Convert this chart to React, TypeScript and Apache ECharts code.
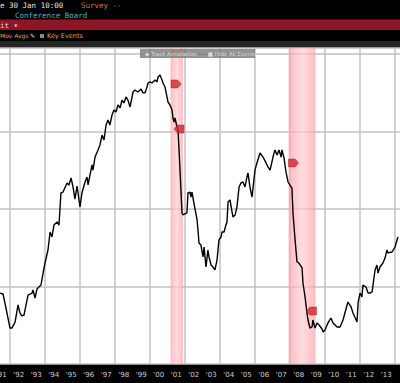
import React, { useEffect, useRef } from "react";
import * as echarts from "echarts";

const years: number[] = [
  1991.43, 1991.6, 1991.71, 1992.0, 1992.11, 1992.29, 1992.46, 1992.57, 1992.69, 1992.8,
  1993.03, 1993.26, 1993.31, 1993.43, 1993.54, 1993.77, 1993.89, 1994.0, 1994.17, 1994.29,
  1994.4, 1994.51, 1994.69, 1994.8, 1994.91, 1995.03, 1995.26, 1995.37, 1995.49, 1995.6,
  1995.71, 1995.83, 1996.0, 1996.11, 1996.29, 1996.4, 1996.46, 1996.57, 1996.69, 1996.74,
  1996.86, 1997.03, 1997.14, 1997.26, 1997.37, 1997.49, 1997.6, 1997.71, 1997.83, 1997.94,
  1998.06, 1998.17, 1998.29, 1998.4, 1998.51, 1998.63, 1998.74, 1998.86, 1999.03, 1999.14,
  1999.31, 1999.49, 1999.6, 1999.71, 1999.83, 1999.89, 2000.0, 2000.11, 2000.17, 2000.29,
  2000.4, 2000.46, 2000.57, 2000.69, 2000.74, 2000.86, 2000.97, 2001.03, 2001.14, 2001.26,
  2001.31, 2001.37, 2001.43, 2001.54, 2001.6, 2001.66, 2001.83, 2001.89, 2002.11, 2002.17,
  2002.29, 2002.34, 2002.4, 2002.51, 2002.69, 2002.74, 2002.8, 2002.91, 2003.03, 2003.09,
  2003.2, 2003.31, 2003.37, 2003.49, 2003.6, 2003.71, 2003.83, 2003.94, 2004.06, 2004.11,
  2004.23, 2004.34, 2004.4, 2004.46, 2004.57, 2004.69, 2004.74, 2004.86, 2004.97, 2005.09,
  2005.2, 2005.31, 2005.43, 2005.54, 2005.6, 2005.71, 2005.83, 2006.0, 2006.11, 2006.29,
  2006.46, 2006.63, 2006.74, 2006.86, 2007.03, 2007.14, 2007.26, 2007.37, 2007.49, 2007.54,
  2007.66, 2007.77, 2007.89, 2008.06, 2008.11, 2008.17, 2008.29, 2008.4, 2008.51, 2008.69,
  2008.74, 2008.86, 2008.97, 2009.03, 2009.14, 2009.26, 2009.31, 2009.43, 2009.54, 2009.66,
  2009.83, 2009.89, 2010.0, 2010.17, 2010.34, 2010.46, 2010.69, 2010.86, 2011.03, 2011.31,
  2011.49, 2011.6, 2011.83, 2011.89, 2012.0, 2012.11, 2012.17, 2012.34, 2012.46, 2012.57,
  2012.69, 2012.86, 2012.97, 2013.03, 2013.14, 2013.31, 2013.43, 2013.54, 2013.6, 2013.83,
  2014.0, 2014.17,
];

const values: number[] = [
  45.8, 45.2, 39.4, 23.2, 23.2, 27.1, 38.1, 32.9, 31.0, 31.6,
  44.5, 45.8, 47.8, 42.6, 48.4, 51.0, 58.7, 65.2, 73.6, 85.2,
  82.0, 89.7, 91.7, 89.7, 110.4, 111.0, 116.9, 115.6, 120.1, 114.3,
  106.5, 114.9, 101.4, 110.4, 117.5, 120.7, 115.6, 122.0, 128.5, 125.2,
  133.6, 138.2, 141.4, 147.8, 144.6, 154.3, 157.5, 154.3, 160.8, 164.0,
  162.7, 167.2, 165.3, 170.4, 168.5, 172.4, 170.4, 165.9, 175.6, 176.9,
  175.6, 177.5, 175.0, 175.0, 178.8, 181.4, 182.1, 181.4, 182.1, 183.4,
  182.1, 185.3, 186.6, 183.4, 181.4, 178.8, 172.4, 169.1, 167.2, 164.0,
  158.8, 156.2, 158.8, 153.0, 151.1, 138.2, 97.5, 96.2, 97.5, 110.4,
  111.0, 107.8, 111.0, 103.9, 93.0, 86.5, 78.1, 76.8, 69.1, 75.5,
  62.6, 73.6, 69.1, 63.9, 62.6, 60.7, 67.1, 80.1, 82.0, 85.2,
  85.2, 89.7, 91.7, 104.6, 105.9, 98.1, 94.9, 96.2, 101.4, 114.3,
  116.9, 117.5, 114.3, 120.7, 123.3, 114.3, 107.8, 125.2, 129.8, 136.2,
  133.6, 129.8, 127.2, 125.2, 133.6, 138.2, 134.9, 138.2, 133.6, 138.2,
  133.0, 124.0, 117.5, 114.3, 113.6, 97.5, 80.1, 65.9, 65.2, 62.0,
  52.3, 43.3, 32.9, 28.4, 23.2, 23.9, 28.4, 23.2, 26.5, 25.2,
  22.6, 20.7, 22.0, 26.5, 29.7, 26.5, 23.9, 23.9, 28.4, 40.0,
  36.8, 32.9, 27.1, 39.4, 45.8, 43.3, 51.0, 49.7, 45.8, 45.8,
  46.5, 60.7, 63.9, 58.7, 62.6, 65.2, 68.4, 73.6, 71.7, 72.3,
  75.5, 82.0,
];

const gridYears: number[] = [1992, 1994, 1996, 1998, 2000, 2002, 2004, 2006, 2008, 2010, 2012, 2014];
const labelYears: number[] = [
  1991, 1992, 1993, 1994, 1995, 1996, 1997, 1998, 1999, 2000, 2001, 2002,
  2003, 2004, 2005, 2006, 2007, 2008, 2009, 2010, 2011, 2012, 2013,
];
const recessionStart: number[] = [2001.17, 2007.92];
const recessionEnd: number[] = [2001.88, 2009.46];

const eventYears: number[] = [2001.49, 2001.66, 2008.2, 2009.23];
const eventValues: number[] = [180.8, 151.7, 129.8, 34.2];
const eventPointRight: boolean[] = [true, false, true, false];

const RIGHT_TAG = "path://M0,0H6L9,4L6,8H0Z";
const LEFT_TAG = "path://M3,0H9V8H3L0,4Z";

export default function App() {
  const ref = useRef<HTMLDivElement>(null);

  useEffect(() => {
    document.body.style.margin = "0";
    if (!ref.current) return;
    const chart = echarts.init(ref.current, undefined, { renderer: "svg" });
    const mono = "DejaVu Sans Mono";
    const gridColor = "#c2c2c2";
    const bandColor = new echarts.graphic.LinearGradient(0, 0, 1, 0, [
      { offset: 0, color: "rgba(255,160,168,0.7)" },
      { offset: 0.5, color: "rgba(255,205,210,0.7)" },
      { offset: 1, color: "rgba(255,160,168,0.7)" },
    ]);

    chart.setOption({
      animation: false,
      backgroundColor: "#000000",
      grid: {
        left: 0,
        right: 0,
        top: 48,
        bottom: 19,
        show: true,
        backgroundColor: "#ffffff",
        borderWidth: 0,
        outerBoundsMode: "none",
      },
      xAxis: {
        type: "value",
        min: 1991.4286,
        max: 2014.2857,
        axisLine: { show: false },
        axisTick: { show: false, customValues: gridYears },
        splitLine: { show: true, lineStyle: { color: gridColor, width: 1.5 } },
        axisLabel: {
          customValues: labelYears.map((y) => y + 0.5),
          formatter: (v: number) => "'" + String(Math.floor(v)).slice(2),
          color: "#cfcfcf",
          fontSize: 7,
          fontFamily: "DejaVu Sans",
          margin: 7,
        },
      },
      yAxis: {
        type: "value",
        min: 0,
        max: 204,
        interval: 50,
        axisLine: { show: false },
        axisTick: { show: false },
        axisLabel: { show: false },
        splitLine: { lineStyle: { color: gridColor, width: 1.5 } },
      },
      series: [
        {
          type: "line",
          data: years.map((y, i) => [y, values[i]]),
          showSymbol: false,
          lineStyle: { color: "#000000", width: 1.4 },
          z: 5,
          markArea: {
            silent: true,
            itemStyle: { color: bandColor },
            data: recessionStart.map((s, i) => [{ xAxis: s }, { xAxis: recessionEnd[i] }]),
          },
        },
        {
          type: "scatter",
          z: 6,
          data: eventYears.map((y, i) => ({
            value: [y, eventValues[i]],
            symbol: eventPointRight[i] ? RIGHT_TAG : LEFT_TAG,
          })),
          symbolSize: [10, 8],
          itemStyle: { color: "#d3232c", borderColor: "#a01018", borderWidth: 0.5 },
        },
      ],
      graphic: [
        {
          type: "text",
          left: 0,
          top: 1,
          style: { text: "e 30 Jan 10:00", fill: "#e6e6e6", font: `7.5px ${mono}` },
        },
        {
          type: "text",
          left: 81,
          top: 1,
          style: { text: "Survey --", fill: "#d2782e", font: `7.5px ${mono}` },
        },
        {
          type: "text",
          left: 15,
          top: 11,
          style: { text: "Conference Board", fill: "#4fb6bf", font: `7.5px ${mono}` },
        },
        {
          type: "rect",
          shape: { x: 0, y: 19.5, width: 400, height: 10.5 },
          style: { fill: "#8e1627" },
        },
        {
          type: "text",
          left: 0,
          top: 21,
          style: { text: "it \u25BE", fill: "#f0d0d0", font: `7.5px ${mono}` },
        },
        {
          type: "text",
          left: 0,
          top: 32.5,
          style: { text: "Mov Avgs", fill: "#e0a048", font: `6px DejaVu Sans` },
        },
        {
          type: "text",
          left: 30,
          top: 32.5,
          style: { text: "\u270E", fill: "#d8d8d8", font: `6px DejaVu Sans` },
        },
        {
          type: "rect",
          shape: { x: 40, y: 34, width: 4, height: 4 },
          style: { fill: "#8a8a8a" },
        },
        {
          type: "text",
          left: 47,
          top: 32.5,
          style: { text: "Key Events", fill: "#e0a048", font: `6.5px DejaVu Sans` },
        },
        {
          type: "rect",
          shape: { x: 0, y: 41, width: 400, height: 7 },
          style: { fill: "#242424" },
        },
        {
          type: "rect",
          shape: { x: 140, y: 49, width: 115, height: 9 },
          style: { fill: "rgba(120,120,120,0.8)" },
          z: 10,
        },
        {
          type: "text",
          left: 145,
          top: 50.5,
          z: 11,
          style: {
            text: "\u25C6 Track Annotation      \u25A0 Hide All Events",
            fill: "#dcdcdc",
            font: `5.5px DejaVu Sans`,
          },
        },
      ],
    });

    return () => chart.dispose();
  }, []);

  return <div ref={ref} style={{ width: 400, height: 383 }} />;
}
